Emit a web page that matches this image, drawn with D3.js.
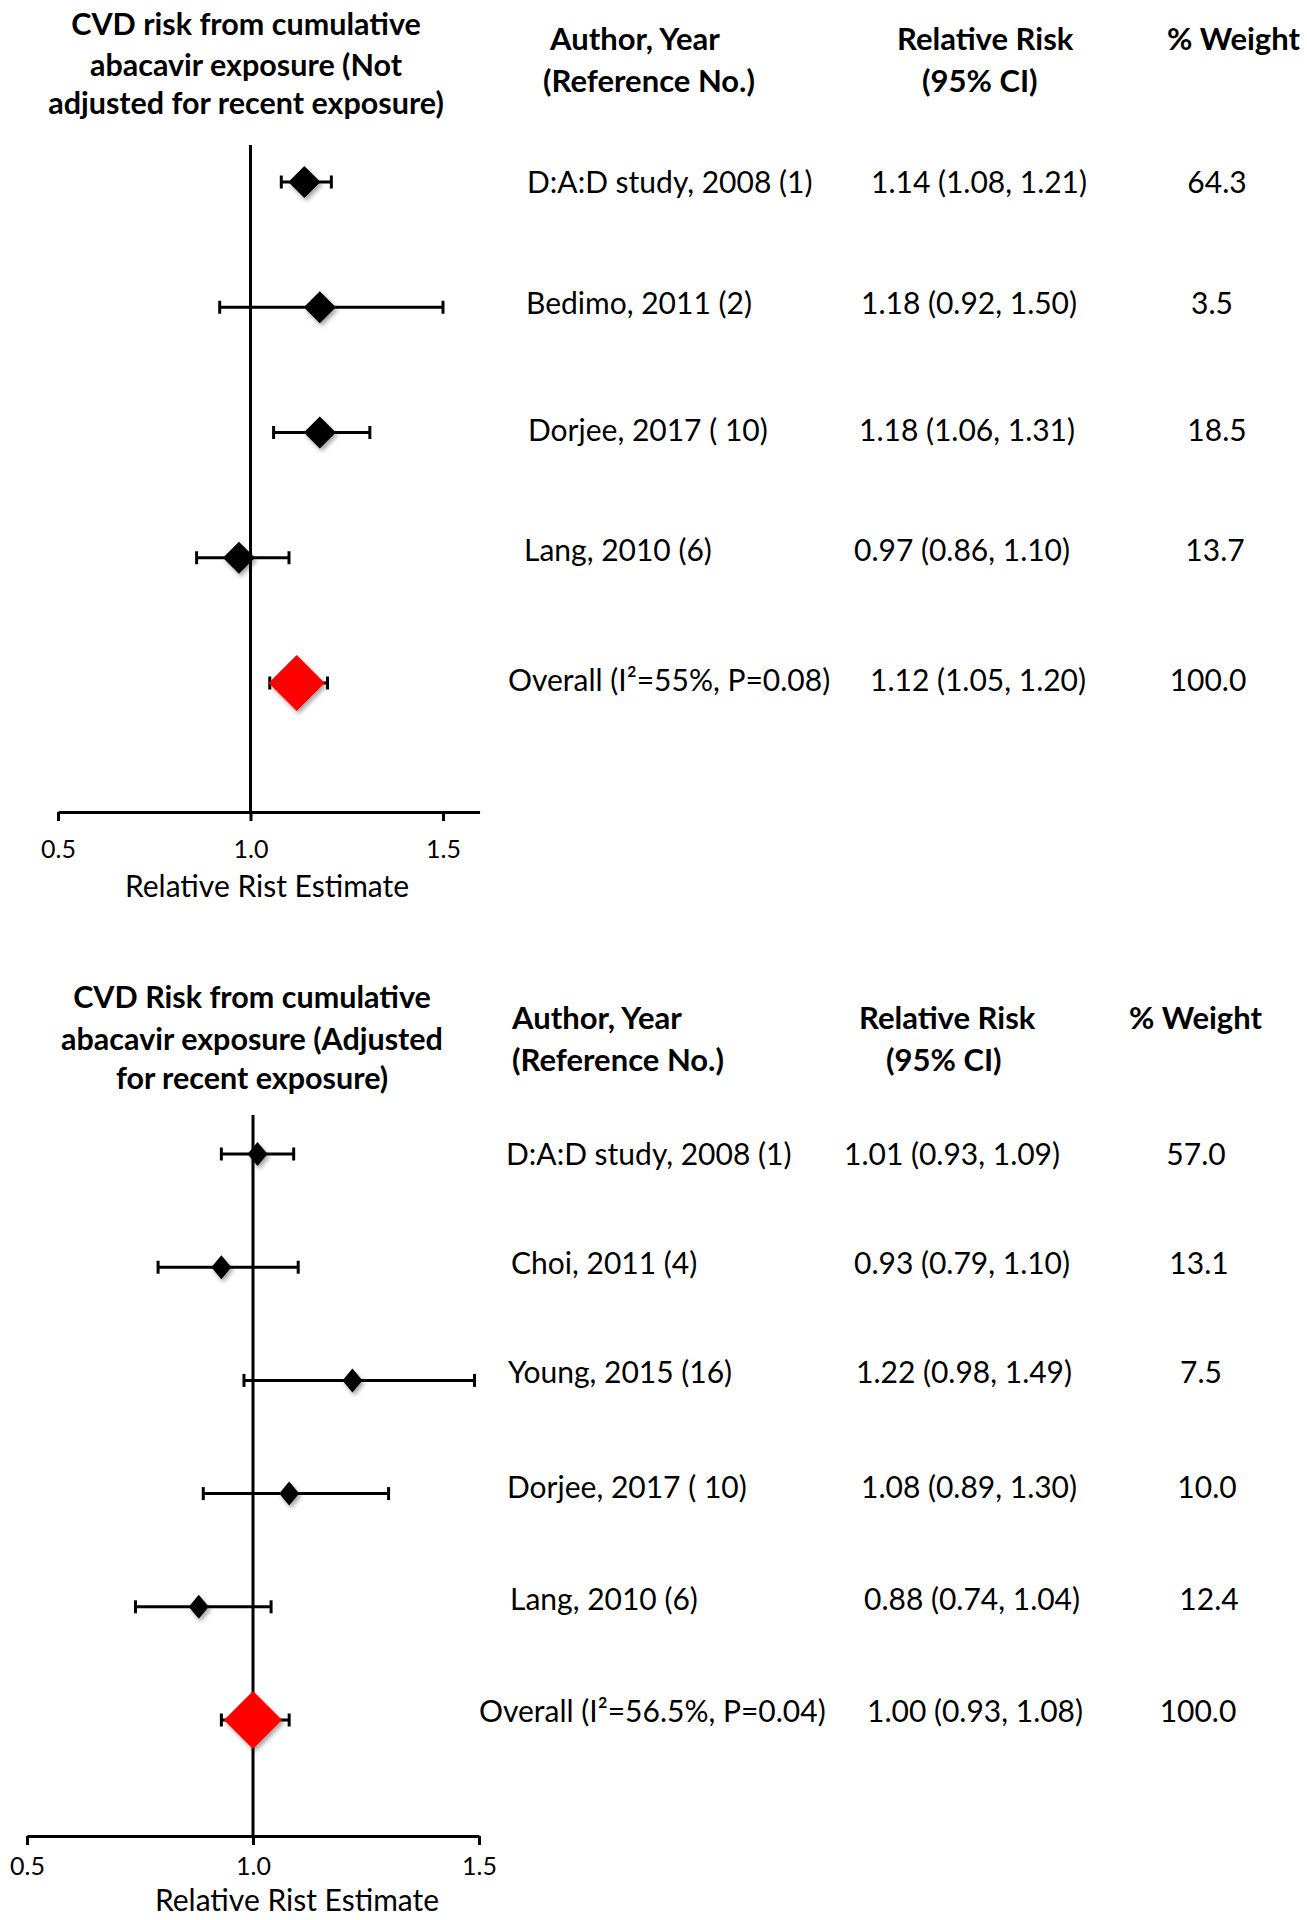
<!DOCTYPE html>
<html>
<head>
<meta charset="utf-8">
<script src="https://cdn.jsdelivr.net/npm/d3@7"></script>
<style>
  html, body { margin: 0; padding: 0; background: #fff; }
  svg { display: block; }
  text { font-family: Lato, "Open Sans", sans-serif; fill: #000; }
</style>
</head>
<body>
<svg id="chart" width="1307" height="1920"></svg>
<script>
// ---------------- DATA ----------------
const topTitle = ["CVD risk from cumulative", "abacavir exposure (Not", "adjusted for recent exposure)"];
const topStudies = ["D:A:D study, 2008 (1)", "Bedimo, 2011 (2)", "Dorjee, 2017 ( 10)", "Lang, 2010 (6)", "Overall (I\u00B2=55%, P=0.08)"];
const topRR = [1.14, 1.18, 1.18, 0.97, 1.12];
const topLow = [1.08, 0.92, 1.06, 0.86, 1.05];
const topHigh = [1.21, 1.50, 1.31, 1.10, 1.20];
const topWeight = ["64.3", "3.5", "18.5", "13.7", "100.0"];

const bottomTitle = ["CVD Risk from cumulative", "abacavir exposure (Adjusted", "for recent exposure)"];
const bottomStudies = ["D:A:D study, 2008 (1)", "Choi, 2011 (4)", "Young, 2015 (16)", "Dorjee, 2017 ( 10)", "Lang, 2010 (6)", "Overall (I\u00B2=56.5%, P=0.04)"];
const bottomRR = [1.01, 0.93, 1.22, 1.08, 0.88, 1.00];
const bottomLow = [0.93, 0.79, 0.98, 0.89, 0.74, 0.93];
const bottomHigh = [1.09, 1.10, 1.49, 1.30, 1.04, 1.08];
const bottomWeight = ["57.0", "13.1", "7.5", "10.0", "12.4", "100.0"];

const tickValues = [0.5, 1.0, 1.5];
const headerAuthor = ["Author, Year", "(Reference No.)"];
const headerRR = ["Relative Risk", "(95% CI)"];
const headerWeight = ["% Weight"];
const axisTitle = "Relative Rist Estimate";

// ---------------- LAYOUT ----------------
const panels = [
  {
    title: topTitle, studies: topStudies, rr: topRR, low: topLow, high: topHigh, weight: topWeight,
    titleX: 246, titleBase: [35, 76, 114],
    headAuthorX: [550, 543], headRRX: [897, 922], headWX: [1167], headBase: [50, 92],
    x0: 58, x1: 443, axisEnd: 1.595, axisY: 812, vTop: 145,
    markTop: 182, markBottom: 683,
    textY: [182, 303, 430, 550, 680],
    studyX: [527, 526, 528, 524, 508],
    rrX: [871, 861, 859, 854, 870],
    weightX: [1217, 1212, 1217, 1215, 1208],
    diamond: [16, 16], bigDiamond: [28, 28],
    tickY: 849, axisTitleX: 267, axisTitleY: 886
  },
  {
    title: bottomTitle, studies: bottomStudies, rr: bottomRR, low: bottomLow, high: bottomHigh, weight: bottomWeight,
    titleX: 252, titleBase: [1008, 1050, 1089],
    headAuthorX: [512, 512], headRRX: [859, 886], headWX: [1129], headBase: [1029, 1071],
    x0: 27, x1: 479, axisEnd: 1.5, axisY: 1836, vTop: 1115,
    markTop: 1154, markBottom: 1720,
    textY: [1154, 1263, 1372, 1487, 1599, 1711],
    studyX: [506, 511, 508, 507, 510, 479],
    rrX: [844, 854, 856, 861, 864, 867],
    weightX: [1196, 1199, 1201, 1207, 1209, 1198],
    diamond: [10, 12], bigDiamond: [29, 29],
    tickY: 1866, axisTitleX: 297, axisTitleY: 1900
  }
];

const FS = { title: 30.5, header: 31, row: 30, tick: 25, axisTitle: 30 };

const svg = d3.select("#chart");
const defs = svg.append("defs");
const f = defs.append("filter").attr("id", "shadow").attr("x", "-50%").attr("y", "-50%").attr("width", "200%").attr("height", "200%");
f.append("feDropShadow").attr("dx", 2).attr("dy", 3).attr("stdDeviation", 2).attr("flood-color", "#000").attr("flood-opacity", 0.35);

panels.forEach(p => {
  const g = svg.append("g");
  const n = p.studies.length;
  const x = d3.scaleLinear().domain([0.5, 1.5]).range([p.x0, p.x1]);
  const yMark = d3.scalePoint().domain(d3.range(n)).range([p.markTop, p.markBottom]);

  // Title
  g.selectAll(".title").data(p.title).join("text")
    .attr("x", p.titleX).attr("y", (d, i) => p.titleBase[i])
    .attr("text-anchor", "middle").attr("font-size", FS.title).attr("font-weight", 700)
    .text(d => d);

  // Headers
  g.selectAll(".hA").data(headerAuthor).join("text")
    .attr("x", (d, i) => p.headAuthorX[i]).attr("y", (d, i) => p.headBase[i])
    .attr("font-size", FS.header).attr("font-weight", 700).text(d => d);
  g.selectAll(".hR").data(headerRR).join("text")
    .attr("x", (d, i) => p.headRRX[i]).attr("y", (d, i) => p.headBase[i])
    .attr("font-size", FS.header).attr("font-weight", 700).text(d => d);
  g.selectAll(".hW").data(headerWeight).join("text")
    .attr("x", (d, i) => p.headWX[i]).attr("y", (d, i) => p.headBase[i])
    .attr("font-size", FS.header).attr("font-weight", 700).text(d => d);

  // Axis
  const axisScale = x.copy().domain([0.5, p.axisEnd]).range([p.x0, x(p.axisEnd)]);
  const ax = g.append("g").attr("transform", `translate(0,${p.axisY})`)
    .call(d3.axisBottom(axisScale).tickValues(tickValues).tickSizeInner(9).tickSizeOuter(0).tickFormat(d3.format(".1f")));
  ax.select(".domain").attr("stroke", "#000").attr("stroke-width", 3);
  ax.selectAll(".tick line").attr("stroke", "#000").attr("stroke-width", 3);
  ax.selectAll(".tick text").attr("y", p.tickY - p.axisY).attr("dy", "0.35em")
    .attr("font-size", FS.tick).attr("font-family", "Lato, sans-serif").attr("fill", "#000");

  g.append("text").attr("x", p.axisTitleX).attr("y", p.axisTitleY).attr("dy", "0.35em")
    .attr("text-anchor", "middle").attr("font-size", FS.axisTitle).text(axisTitle);

  // Vertical reference line
  g.append("line").attr("x1", x(1)).attr("x2", x(1)).attr("y1", p.vTop).attr("y2", p.axisY)
    .attr("stroke", "#000").attr("stroke-width", 3);

  // Error bars
  const rows = d3.range(n).map(i => ({ i, rr: p.rr[i], lo: p.low[i], hi: p.high[i], overall: i === n - 1 }));
  const eb = g.selectAll(".eb").data(rows).join("g");
  eb.append("line").attr("x1", d => x(d.lo)).attr("x2", d => x(d.hi))
    .attr("y1", d => yMark(d.i)).attr("y2", d => yMark(d.i)).attr("stroke", "#000").attr("stroke-width", 3);
  eb.append("line").attr("x1", d => x(d.lo)).attr("x2", d => x(d.lo))
    .attr("y1", d => yMark(d.i) - 6.5).attr("y2", d => yMark(d.i) + 6.5).attr("stroke", "#000").attr("stroke-width", 3);
  eb.append("line").attr("x1", d => x(d.hi)).attr("x2", d => x(d.hi))
    .attr("y1", d => yMark(d.i) - 6.5).attr("y2", d => yMark(d.i) + 6.5).attr("stroke", "#000").attr("stroke-width", 3);

  // Diamonds
  g.selectAll(".dm").data(rows).join("path")
    .attr("d", d => {
      const [hw, hh] = d.overall ? p.bigDiamond : p.diamond;
      const cx = x(d.rr), cy = yMark(d.i);
      return `M${cx - hw},${cy}L${cx},${cy - hh}L${cx + hw},${cy}L${cx},${cy + hh}Z`;
    })
    .attr("fill", d => d.overall ? "#ff0000" : "#000")
    .attr("filter", "url(#shadow)");

  // Row texts
  g.selectAll(".st").data(rows).join("text")
    .attr("x", d => p.studyX[d.i]).attr("y", d => p.textY[d.i]).attr("dy", "0.35em")
    .attr("font-size", FS.row).text(d => p.studies[d.i]);
  g.selectAll(".rt").data(rows).join("text")
    .attr("x", d => p.rrX[d.i]).attr("y", d => p.textY[d.i]).attr("dy", "0.35em")
    .attr("font-size", FS.row).text(d => `${d.rr.toFixed(2)} (${d.lo.toFixed(2)}, ${d.hi.toFixed(2)})`);
  g.selectAll(".wt").data(rows).join("text")
    .attr("x", d => p.weightX[d.i]).attr("y", d => p.textY[d.i]).attr("dy", "0.35em")
    .attr("text-anchor", "middle").attr("font-size", FS.row).text(d => p.weight[d.i]);
});
</script>
</body>
</html>
